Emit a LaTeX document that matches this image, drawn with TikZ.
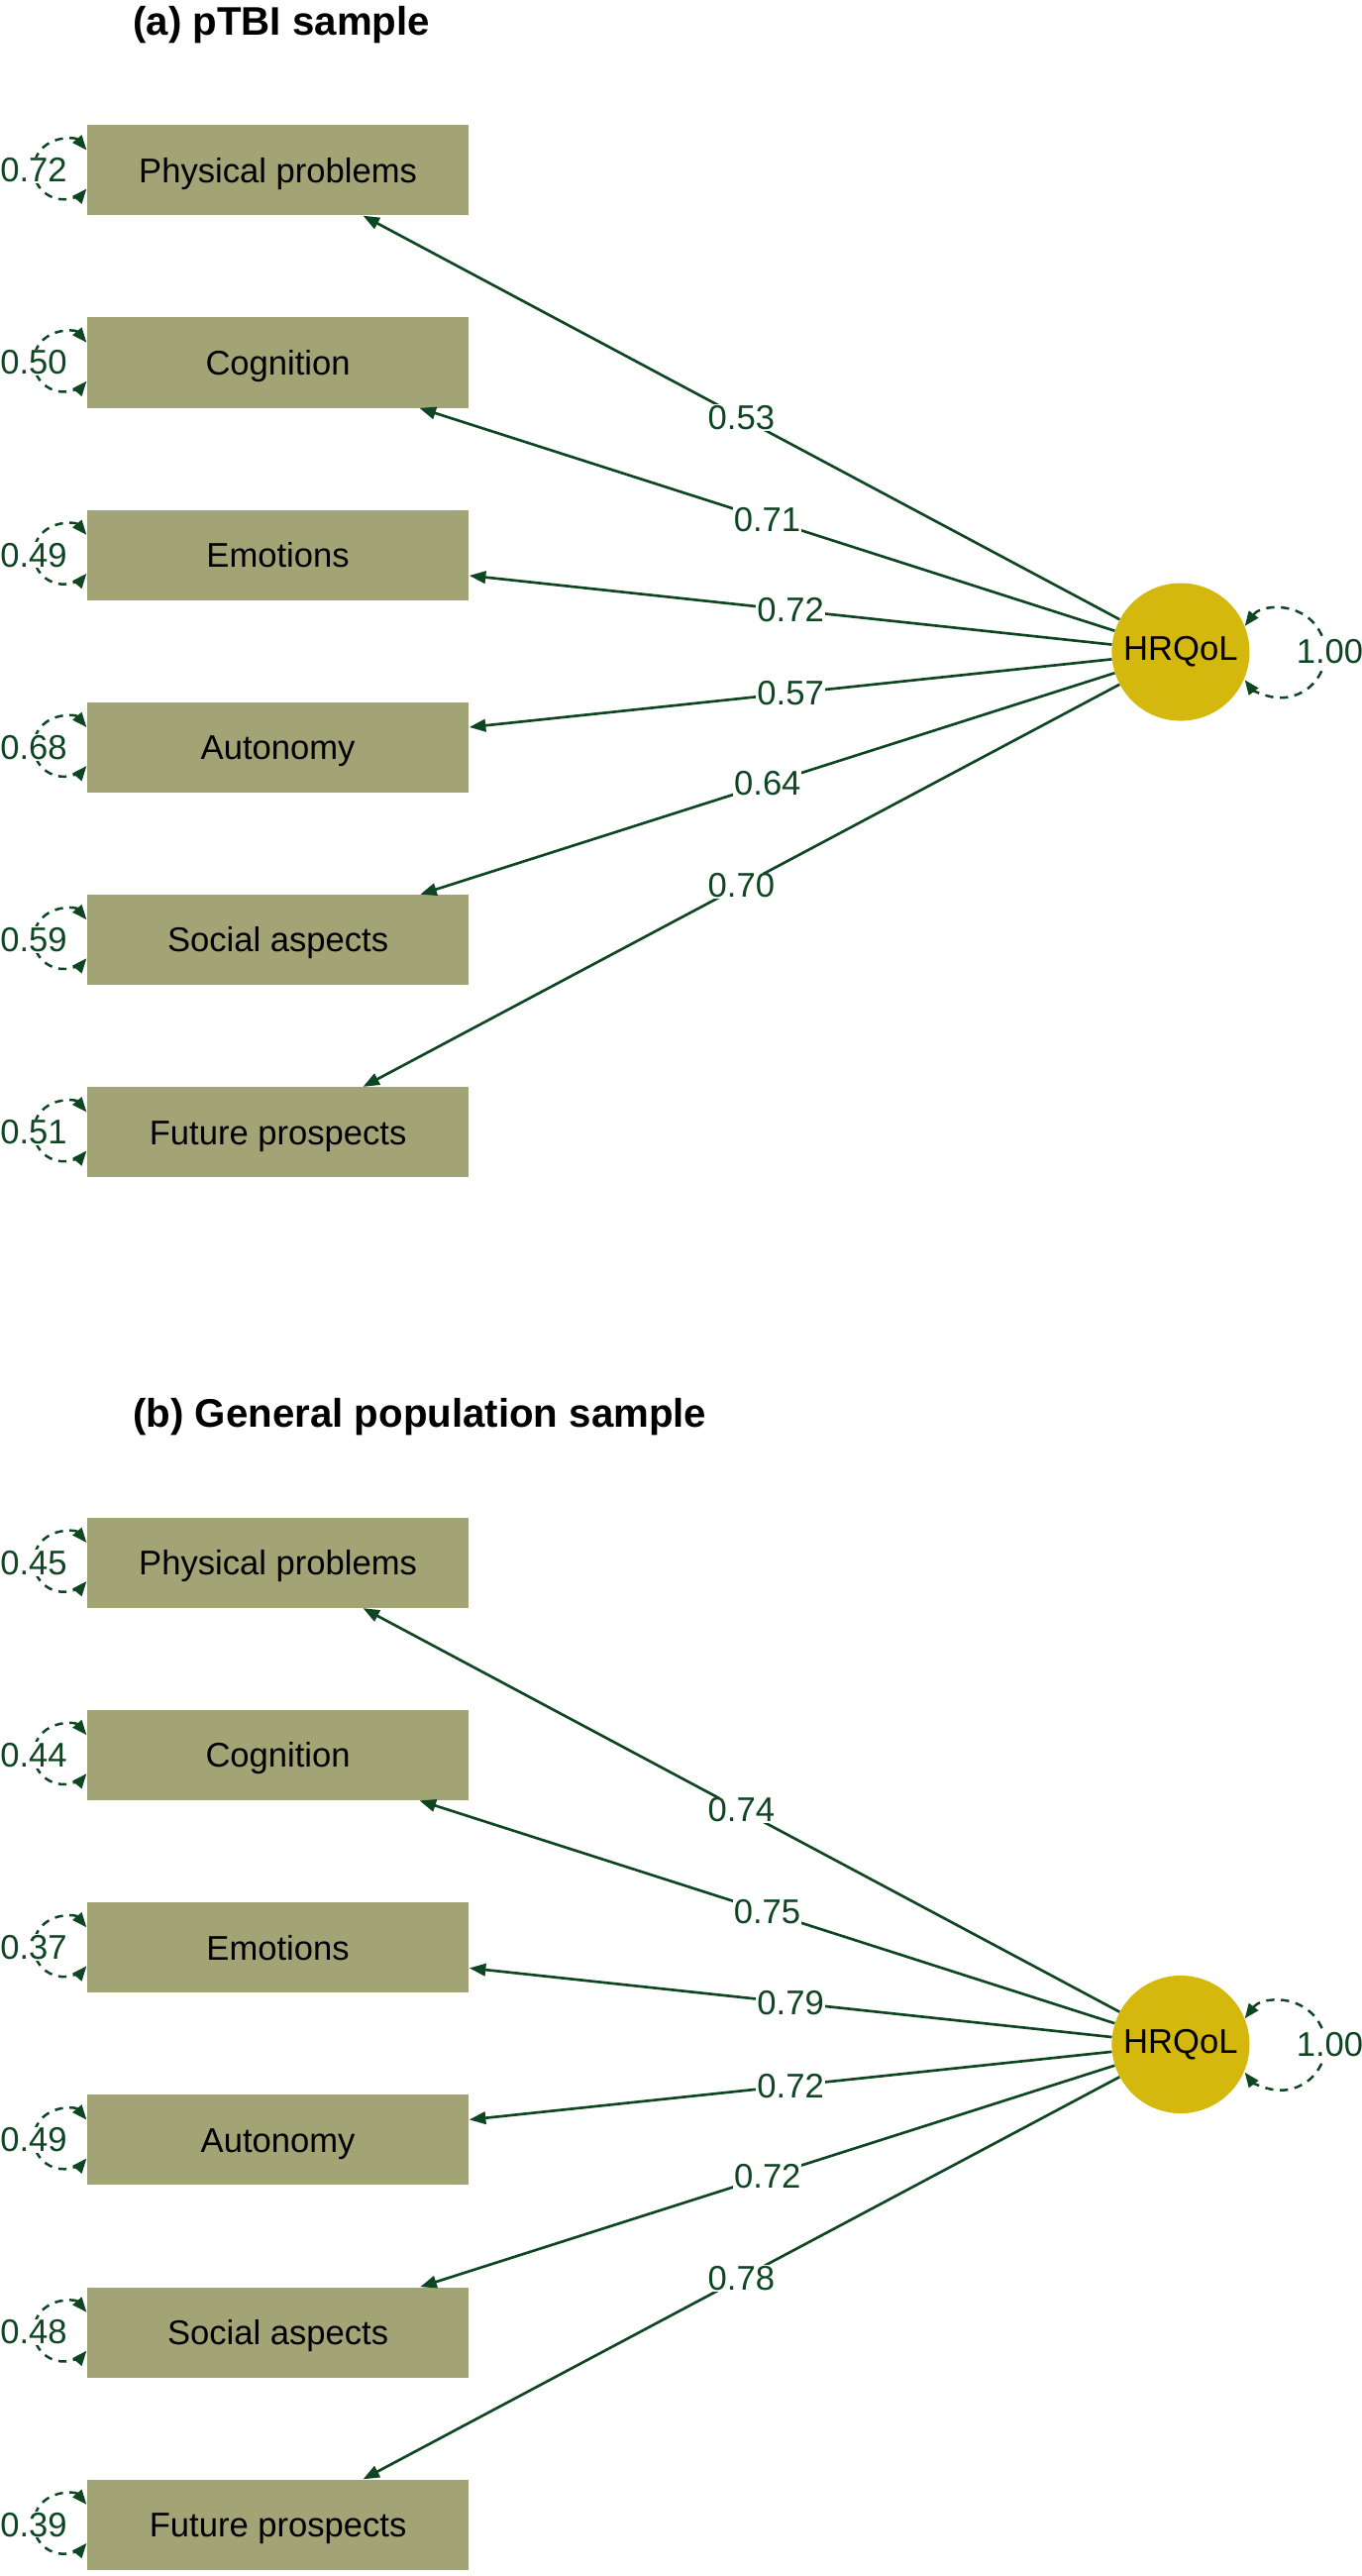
\documentclass[tikz,border=0pt]{standalone}
\usepackage{fontspec}
\setmainfont{Liberation Sans}
\usetikzlibrary{arrows.meta,calc}
\definecolor{boxol}{RGB}{162,164,118}
\definecolor{latgold}{RGB}{213,184,14}
\definecolor{dgreen}{RGB}{14,70,34}
\tikzset{
  obs/.style={rectangle, fill=boxol, minimum width=233pt, minimum height=55pt, inner sep=0pt, text height=15pt, text depth=0pt, font=\fontsize{20.9}{24}\selectfont},
  lat/.style={circle, fill=latgold, minimum size=84pt, inner sep=0pt, font=\fontsize{20.9}{24}\selectfont},
  pathline/.style={draw=dgreen, line width=1.6pt, -{Triangle[length=10pt,width=7.5pt]}},
  lbl/.style={fill=white, text=dgreen, inner sep=0.6pt, font=\fontsize{20.9}{24}\selectfont},
  resid/.style={draw=dgreen, line width=1.5pt, dash pattern=on 5pt off 4pt, {Triangle[length=9pt,width=7pt]}-{Triangle[length=9pt,width=7pt]}},
  ttl/.style={font=\bfseries\fontsize{24.3}{28}\selectfont, anchor=west, inner sep=0pt}
}
\newcommand{\semPanel}[4]{%
  \node[ttl] (#1-title) at (81,{-(#2+15)}) {#3};
  \node[lat] (#1-h) at (720,{-(#2+397.5)}) {HRQoL};
  \foreach \i/\nm/\rs/\ld in {#4} {
    \pgfmathsetmacro{\yy}{-(#2+103.8+(\i-1)*117.3)}
    \node[obs] (#1-\i) at (169.5,\yy) {\nm};
    \draw[pathline] (#1-h) -- node[lbl]{\ld} (#1-\i);
    \draw[resid] (#1-\i.174.27) arc[start angle=40,end angle=320,radius=18.3];
    \node[lbl] (#1-r\i) at (20.5,\yy) {\rs};
  }
  \draw[resid] (#1-h.22.7) arc[start angle=143,end angle=-143,radius=27.3];
  \node[lbl] (#1-hr) at (811,{-(#2+397.5)}) {1.00};
}
\begin{document}
\begin{tikzpicture}[x=1pt,y=1pt]
\useasboundingbox (0,0) rectangle (830,-1570.6);
\semPanel{a}{0}{(a) pTBI sample}{1/Physical problems/0.72/0.53, 2/Cognition/0.50/0.71, 3/Emotions/0.49/0.72, 4/Autonomy/0.68/0.57, 5/Social aspects/0.59/0.64, 6/Future prospects/0.51/0.70}
\semPanel{b}{849}{(b) General population sample}{1/Physical problems/0.45/0.74, 2/Cognition/0.44/0.75, 3/Emotions/0.37/0.79, 4/Autonomy/0.49/0.72, 5/Social aspects/0.48/0.72, 6/Future prospects/0.39/0.78}
\end{tikzpicture}
\end{document}
